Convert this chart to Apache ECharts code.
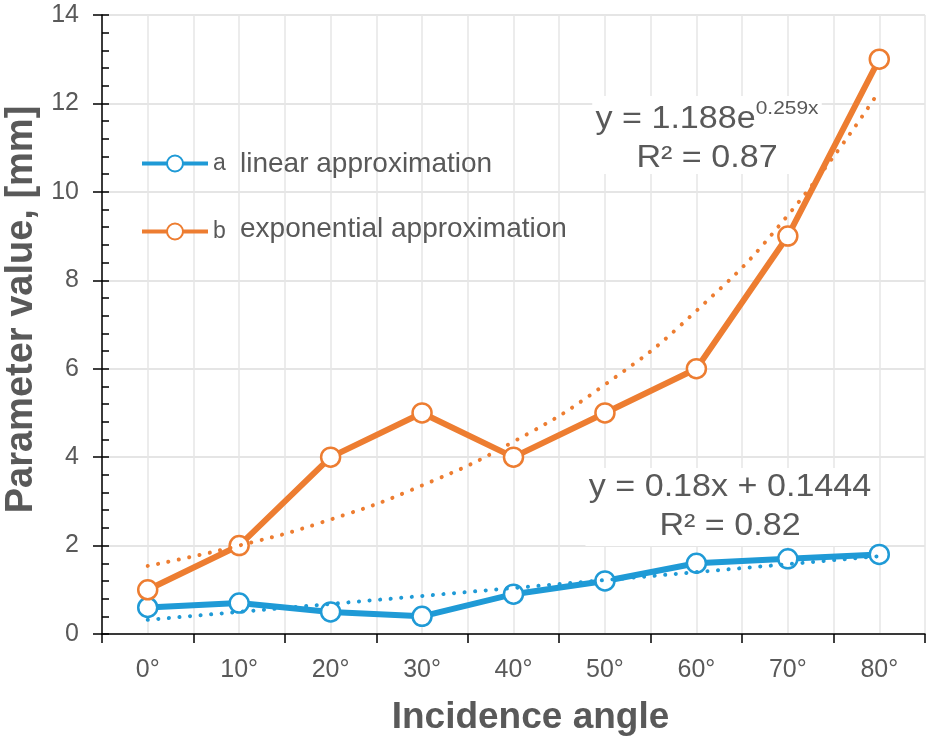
<!DOCTYPE html>
<html>
<head>
<meta charset="utf-8">
<script src="https://cdn.jsdelivr.net/npm/echarts@6/dist/echarts.min.js"></script>
<style>
html, body { margin: 0; padding: 0; background: #fff; }
#chart { width: 927px; height: 740px; }
</style>
</head>
<body>
<div id="chart"></div>
<script>
// incidence angles on the x axis
const angles = ["0°", "10°", "20°", "30°", "40°", "50°", "60°", "70°", "80°"];
// measured parameter values, mm
const seriesA = [0.6, 0.7, 0.5, 0.4, 0.9, 1.2, 1.6, 1.7, 1.8];
const seriesB = [1, 2, 4, 5, 4, 5, 6, 9, 13];
// trend lines
const trendA = [0.32, 0.50, 0.68, 0.86, 1.04, 1.22, 1.40, 1.58, 1.76];
const trendB = [1.54, 2.0, 2.59, 3.36, 4.35, 5.64, 7.31, 9.47, 12.28];
const seriesNames = ["a", "b"];
const seriesNotes = ["linear approximation", "exponential approximation"];

const BLUE = "#1f9ad6";
const ORANGE = "#ed7d31";
const GREY = "#595959";
const FONT = "Liberation Sans, Arial, sans-serif";

const chart = echarts.init(document.getElementById("chart"));

function mainLine(name, data, color) {
	return {
		name: name,
		type: "line",
		data: data,
		z: 3,
		symbol: "circle",
		symbolSize: 19,
		lineStyle: { color: color, width: 6 },
		itemStyle: { color: "#fff", borderColor: color, borderWidth: 2.5 },
		emphasis: { disabled: true },
	};
}

function trendLine(data, color, smooth) {
	return {
		type: "line",
		data: data,
		z: 4,
		smooth: smooth,
		symbol: "none",
		silent: true,
		lineStyle: { color: color, width: 4, type: [0.1, 10.5], cap: "round" },
	};
}

const option = {
	backgroundColor: "#fff",
	animation: false,
	textStyle: { fontFamily: FONT },
	grid: { left: 102, right: 2, top: 15, bottom: 106, outerBoundsMode: "none", containLabel: false },
	legend: {
		data: seriesNames,
		orient: "vertical",
		left: 135,
		top: 147,
		itemWidth: 66,
		itemHeight: 20,
		itemGap: 45,
		selectedMode: false,
		lineStyle: { width: 4 },
		itemStyle: { borderWidth: 2 },
		textStyle: { fontSize: 23, color: GREY },
	},
	xAxis: [
		{
			type: "category",
			data: angles,
			boundaryGap: true,
			name: "Incidence angle",
			nameLocation: "middle",
			nameGap: 65,
			nameTextStyle: { fontSize: 37, fontWeight: "bold", color: GREY, padding: [0, 0, 0, 34] },
			axisLine: { lineStyle: { color: "#000", width: 1.5 } },
			axisTick: { show: true, length: 9, lineStyle: { color: "#000", width: 1.5 } },
			axisLabel: { fontSize: 25, color: GREY, margin: 24 },
			splitLine: { show: false },
		},
		{
			// half-category vertical grid lines
			type: "value",
			min: 0,
			max: 18,
			interval: 1,
			position: "bottom",
			axisLine: { show: false },
			axisTick: { show: false },
			axisLabel: { show: false },
			splitLine: { show: true, lineStyle: { color: "#e6e6e6", width: 1.5 } },
		},
	],
	yAxis: [
		{
			type: "value",
			min: 0,
			max: 14,
			interval: 2,
			name: "Parameter value, [mm]",
			nameLocation: "middle",
			nameRotate: 90,
			nameGap: 55,
			nameTextStyle: { fontSize: 38, fontWeight: "bold", color: GREY, padding: [0, 0, 0, 30] },
			axisLine: { show: true, lineStyle: { color: "#000", width: 1.5 } },
			axisTick: { show: true, length: 9, lineStyle: { color: "#000", width: 1.5 } },
			axisLabel: { fontSize: 25, color: GREY, margin: 23 },
			splitLine: { show: true, lineStyle: { color: "#dcdcdc", width: 1.5 } },
		},
		{
			// inner ticks and minor ticks
			type: "value",
			min: 0,
			max: 14,
			interval: 2,
			position: "left",
			axisLine: { show: false },
			axisTick: { show: true, inside: true, length: 7, lineStyle: { color: "#000", width: 1.5 } },
			minorTick: { show: true, splitNumber: 5, length: 7, lineStyle: { color: "#000", width: 1.5 } },
			axisLabel: { show: false },
			splitLine: { show: false },
		},
	],
	series: [
		mainLine(seriesNames[0], seriesA, BLUE),
		mainLine(seriesNames[1], seriesB, ORANGE),
		trendLine(trendA, BLUE, false),
		trendLine(trendB, ORANGE, true),
	],
	graphic: [
		{
			type: "text",
			left: 240,
			top: 150,
			z: 1,
			style: { text: seriesNotes[0], fontSize: 28, fill: GREY, fontFamily: FONT },
		},
		{
			type: "text",
			left: 240,
			top: 215,
			z: 1,
			style: { text: seriesNotes[1], fontSize: 28, fill: GREY, fontFamily: FONT },
		},
		{
			// exponential trend equation
			type: "text",
			x: 707,
			y: 96,
			z: 1,
			scaleX: 1.1,
			style: {
				text: "{m|y = 1.188e}{s|0.259x}\n{m|R² = 0.87}",
				align: "center",
				fill: GREY,
				fontFamily: FONT,
				backgroundColor: "#fff",
				padding: [0, 3],
				rich: {
					m: { fontSize: 31, lineHeight: 39, fill: GREY, verticalAlign: "bottom" },
					s: { fontSize: 19, lineHeight: 19, fill: GREY, verticalAlign: "top", padding: [3, 0, 0, 0] },
				},
			},
		},
		{
			// linear trend equation
			type: "text",
			x: 730,
			y: 468,
			z: 1,
			scaleX: 1.1,
			style: {
				text: "y = 0.18x + 0.1444\nR² = 0.82",
				align: "center",
				fontSize: 31,
				lineHeight: 39,
				fill: GREY,
				fontFamily: FONT,
				backgroundColor: "#fff",
				padding: [0, 3],
			},
		},
	],
};

chart.setOption(option);
</script>
</body>
</html>
